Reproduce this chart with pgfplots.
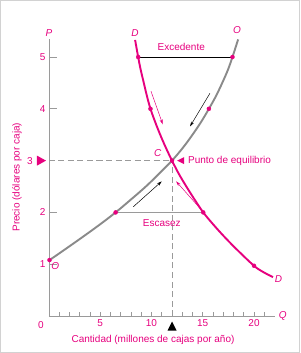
\documentclass[border=0pt]{standalone}
\usepackage{fontspec}
\setmainfont{Liberation Sans}
\usepackage{pgfplots}
\pgfplotsset{compat=1.18}
\usetikzlibrary{arrows.meta}
\definecolor{mag}{HTML}{E6007E}
\definecolor{sgray}{HTML}{8A8A8A}
\definecolor{agray}{HTML}{9A9A9A}
\begin{document}
\fontsize{10}{12}\selectfont
\begin{tikzpicture}
\useasboundingbox (-49pt,-37pt) rectangle (251pt,316pt);
\draw[gray!35, line width=1pt] (-48.5pt,-36.5pt) rectangle (250.5pt,315.5pt);
\begin{axis}[
  at={(0,0)}, anchor=south west,
  scale only axis, width=225.5pt, height=277.1pt,
  xmin=0, xmax=22, ymin=0, ymax=5.35,
  axis lines=left,
  axis line style={agray, line width=0.8pt, -},
  clip=false,
  xtick={5,10,15,20}, minor xtick={1,2,3,4,6,7,8,9,11,13,14,16,17,18,19,21},
  ytick={2,4,5},
  extra y ticks={1}, extra y tick style={/pgfplots/major tick length=0pt},
  tick align=inside,
  tick style={agray, line width=0.8pt},
  xtick style={/pgfplots/major tick length=4.5pt, /pgfplots/minor tick length=4.5pt},
  ytick style={/pgfplots/major tick length=8pt},
  ticklabel style={mag, font=\fontsize{10}{12}\selectfont},
  /pgf/number format/assume math mode=true,
]
% dashed guides
\addplot[agray, line width=0.7pt, dash pattern=on 6pt off 3.5pt] coordinates {(0,3) (12,3)};
\addplot[agray, line width=0.7pt, dash pattern=on 6pt off 3.5pt] coordinates {(12,0) (12,3)};
% surplus and shortage lines
\addplot[black, line width=0.7pt] coordinates {(8.7,5) (17.9,5)};
\addplot[agray, line width=0.8pt] coordinates {(6.5,2) (15.05,2)};
% supply
\addplot[sgray, line width=1.9pt, smooth, tension=0.6] coordinates {
 (0.2,1.1) (1.3,1.25) (3.1,1.5) (4.85,1.75) (6.5,2) (8.0,2.25) (9.45,2.5) (10.75,2.75) (12,3)
 (13.07,3.25) (14.0,3.5) (14.85,3.75) (15.6,4) (16.3,4.25) (16.9,4.5) (17.45,4.75) (17.9,5) (18.45,5.34)};
% demand
\addplot[mag, line width=1.9pt, smooth, tension=0.6] coordinates {
 (8.4,5.33) (8.7,5) (8.95,4.75) (9.25,4.5) (9.55,4.25) (9.9,4) (10.35,3.75) (10.85,3.5) (11.4,3.25) (12,3)
 (12.65,2.75) (13.4,2.5) (14.2,2.25) (15.05,2) (16.1,1.75) (17.25,1.5) (18.5,1.25) (20,0.97) (20.8,0.86) (21.85,0.75)};
% dots
\addplot[only marks, mark=*, mark size=2pt, mag] coordinates {
 (0.05,1.08) (6.5,2) (15.6,4) (17.9,5) (8.7,5) (9.9,4) (15.05,2) (20,0.97) (12,3)};
% arrows
\draw[-{Stealth[length=5pt,width=3pt]}, line width=0.5pt, black] (axis cs:15.7,4.3) -- (axis cs:13.76,3.66);
\draw[-{Stealth[length=5pt,width=3pt]}, line width=0.5pt, black] (axis cs:8.23,2.11) -- (axis cs:11.0,2.6);
\draw[-{Stealth[length=5pt,width=3pt]}, line width=0.5pt, mag] (axis cs:9.95,4.34) -- (axis cs:11.1,3.7);
\draw[-{Stealth[length=5pt,width=3pt]}, line width=0.5pt, mag] (axis cs:14.73,2.08) -- (axis cs:12.4,2.6);
% markers on axes
\fill[mag] (axis cs:0,3) ++(-3pt,0) -- ++(-9pt,5pt) -- ++(0,-10pt) -- cycle;
\fill[black] (axis cs:12,0) ++(0,-5.5pt) -- ++(4.5pt,-9pt) -- ++(-9pt,0) -- cycle;
\fill[mag] (axis cs:12.5,3) -- ++(7pt,3.5pt) -- ++(0,-7pt) -- cycle;
% labels
\node[mag, anchor=north east, inner sep=0pt] at ([xshift=-5pt,yshift=-5pt]axis cs:0,0) {0};
\node[mag] at ([xshift=-19pt]axis cs:0,3) {3};
\node[mag, anchor=west, inner sep=0pt] at (axis cs:13.55,3) {Punto de equilibrio};
\node[mag] at (axis cs:12.9,5.2) {Excedente};
\node[mag] at (axis cs:11.0,1.8) {Escasez};
\node[mag, font=\itshape] at (axis cs:0,5.46) {P};
\node[mag, font=\itshape] at (axis cs:8.4,5.46) {D};
\node[mag, font=\itshape] at (axis cs:18.35,5.52) {O};
\node[mag, font=\itshape] at (axis cs:10.6,3.15) {C};
\node[mag, font=\itshape] at (axis cs:22.4,0.71) {D};
\node[mag, font=\itshape] at (axis cs:0.6,0.97) {O};
\node[mag, font=\itshape] at (axis cs:22.8,0) {Q};
\node[mag, rotate=90] at (axis cs:-3.12,2.68) {Precio (dólares por caja)};
\node[mag] at (axis cs:10.15,-0.46) {Cantidad (millones de cajas por año)};
\end{axis}
\end{tikzpicture}
\end{document}
